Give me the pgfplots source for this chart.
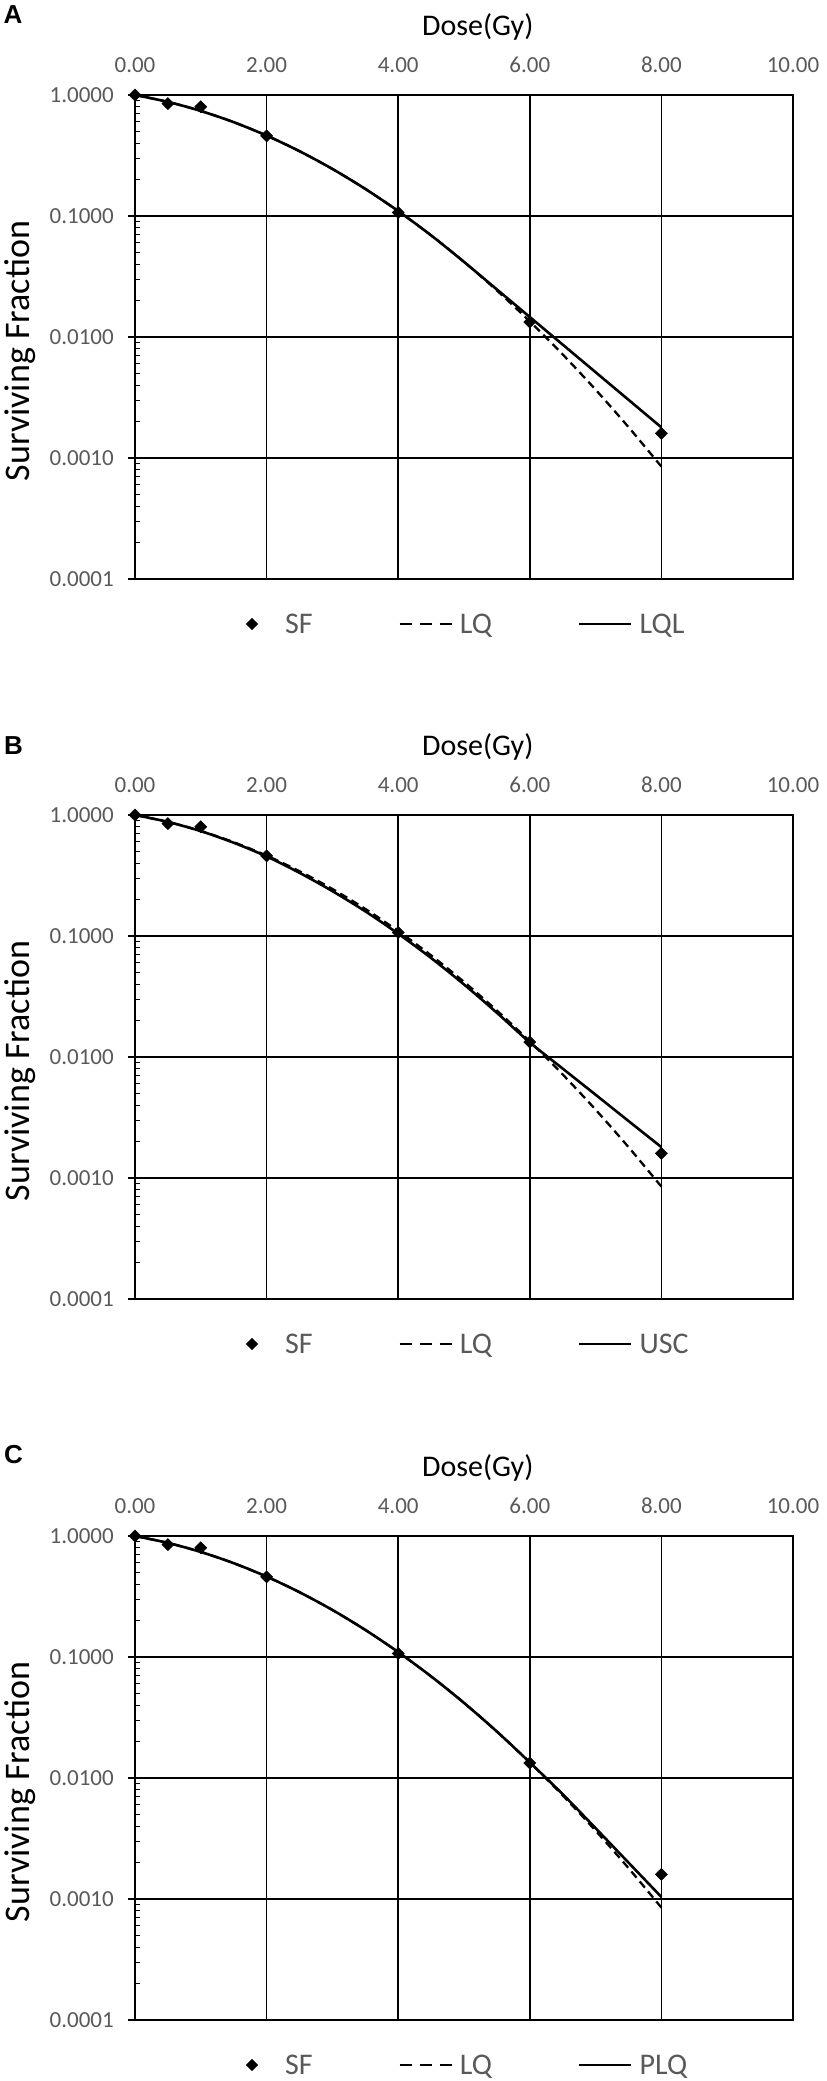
\documentclass[border=0pt]{standalone}
\usepackage{pgfplots}
\pgfplotsset{compat=1.18}
\usepackage{pgfplotstable}
\usepackage{fontspec}
\setmainfont{Carlito}
\newfontfamily\panelfont{Liberation Sans}
\definecolor{tickgray}{HTML}{595959}
\newcommand{\tickfont}{\fontsize{23}{27}\selectfont}
\newcommand{\legfont}{\fontsize{30}{36}\selectfont}
\newcommand{\xtitlefont}{\fontsize{30}{36}\selectfont}
\newcommand{\ytitlefont}{\fontsize{36}{42}\selectfont}

\pgfplotstableread{
x y
0 1.0
0.5 0.85
1 0.80
2 0.46
4 0.107
6 0.0133
8 0.0016
}\sfdata

\pgfplotstableread{
x y
0 1.0000
0.5 0.8774
1 0.7386
1.5 0.5965
2 0.4621
2.5 0.3434
3 0.2449
3.5 0.1675
4 0.1099
4.5 0.06920
5 0.04179
5.5 0.02421
6 0.01346
6.5 0.007178
7 0.003672
7.5 0.001802
8 0.000849
}\lqdata

\pgfplotstableread{
x y
0 1.0000
0.5 0.8774
1 0.7386
1.5 0.5965
2 0.4621
2.5 0.3434
3 0.2449
3.5 0.1675
4 0.1099
4.5 0.06920
5 0.04179
5.5 0.02472
6 0.01463
6.5 0.008652
7 0.005118
7.5 0.003028
8 0.001791
}\lqldata

\pgfplotstableread{
x y
0 1.0
0.5 0.877
1 0.736
1.5 0.590
2 0.455
2.5 0.333
3 0.235
3.5 0.160
4 0.1045
4.5 0.0658
5 0.0398
5.5 0.0232
6 0.0132
6.5 0.00802
7 0.00488
7.5 0.00296
8 0.0018
}\uscdata

\pgfplotstableread{
x y
0 1.0000
0.5 0.8774
1 0.7386
1.5 0.5965
2 0.4621
2.5 0.3434
3 0.2449
3.5 0.1675
4 0.1099
4.5 0.06920
5 0.04179
5.5 0.02421
6 0.01346
6.5 0.00735
7 0.00385
7.5 0.00200
8 0.00104
}\plqdata

\pgfplotsset{
  every axis/.append style={
    scale only axis, width=658pt, height=484pt,
    clip=false,
    xmin=0, xmax=10, ymin=0.0001, ymax=1,
    xtick={0,2,4,6,8,10},
    xticklabels={0.00,2.00,4.00,6.00,8.00,10.00},
    ytick={0.0001,0.001,0.01,0.1,1},
    yticklabels={0.0001,0.0010,0.0100,0.1000,1.0000},
    minor ytick={0.0002,0.0003,0.0004,0.0005,0.0006,0.0007,0.0008,0.0009,
                 0.002,0.003,0.004,0.005,0.006,0.007,0.008,0.009,
                 0.02,0.03,0.04,0.05,0.06,0.07,0.08,0.09,
                 0.2,0.3,0.4,0.5,0.6,0.7,0.8,0.9},
    xticklabel pos=right, xtick pos=right, ytick pos=left,
    xtick align=inside, ytick align=outside,
    major tick length=7pt, minor tick length=5pt,
    major tick style={black, line width=1.3pt},
    minor tick style={black, line width=1.1pt, xshift=5pt},
    grid=major,
    major grid style={black, line width=1.5pt},
    axis line style={black, line width=1.7pt},
    tick label style={font=\tickfont, text=tickgray},
    xticklabel style={anchor=base, yshift=23pt},
    yticklabel style={anchor=east, inner sep=0pt, xshift=-14pt},
    xlabel={Dose(Gy)},
    ylabel={Surviving Fraction},
    xlabel style={at={(axis description cs:0.521,1)}, anchor=base, yshift=60pt, font=\xtitlefont},
    ylabel style={at={(axis description cs:-0.1748,0.471)}, anchor=center, font=\ytitlefont},
    legend columns=3,
    legend style={at={(0.138,-0.093)}, anchor=west, draw=none, fill=none, font=\legfont, text=tickgray, inner sep=0pt,
      nodes={inner sep=0pt},
      /tikz/every odd column/.append style={column sep=7pt},
      /tikz/every even column/.append style={column sep=86pt}},
  },
  sfleg/.style={legend image code/.code={\path[draw=none, fill=none] (0pt,0pt) -- (52pt,0pt); \node[fill=black, draw=none, rotate=45, minimum size=8.6pt, inner sep=0pt] at (26pt,0pt) {};}},
  lqleg/.style={legend image code/.code={\draw[black, line width=2.3pt, dash pattern=on 12pt off 8pt] (0pt,0pt) -- (52pt,0pt);}},
  solleg/.style={legend image code/.code={\draw[black, line width=2.6pt] (0pt,0pt) -- (52pt,0pt);}},
}

\begin{document}
\begin{tikzpicture}
\useasboundingbox (0,0) rectangle (827pt,-2081pt);

\node[font=\panelfont\bfseries\fontsize{26}{30}\selectfont] at (13pt,-14.5pt) {A};
\node[font=\panelfont\bfseries\fontsize{26}{30}\selectfont] at (13.5pt,-746pt) {B};
\node[font=\panelfont\bfseries\fontsize{26}{30}\selectfont] at (13.5pt,-1455pt) {C};

\begin{semilogyaxis}[at={(135pt,-579pt)}, anchor=south west]
\addplot[only marks, mark=square*, mark size=4.3pt, mark options={rotate=45, fill=black, draw=black}, sfleg] table[x=x,y=y] {\sfdata};
\addlegendentry{SF}
\addplot[black, line width=2.3pt, dash pattern=on 8pt off 5pt, smooth, no marks, lqleg] table[x=x,y=y] {\lqdata};
\addlegendentry{LQ}
\addplot[black, line width=2.6pt, smooth, no marks, solleg] table[x=x,y=y] {\lqldata};
\addlegendentry{LQL}
\end{semilogyaxis}

\begin{semilogyaxis}[at={(135pt,-1299pt)}, anchor=south west]
\addplot[only marks, mark=square*, mark size=4.3pt, mark options={rotate=45, fill=black, draw=black}, sfleg] table[x=x,y=y] {\sfdata};
\addlegendentry{SF}
\addplot[black, line width=2.3pt, dash pattern=on 8pt off 5pt, smooth, no marks, lqleg] table[x=x,y=y] {\lqdata};
\addlegendentry{LQ}
\addplot[black, line width=2.6pt, smooth, no marks, solleg] table[x=x,y=y] {\uscdata};
\addlegendentry{USC}
\end{semilogyaxis}

\begin{semilogyaxis}[at={(135pt,-2020pt)}, anchor=south west]
\addplot[only marks, mark=square*, mark size=4.3pt, mark options={rotate=45, fill=black, draw=black}, sfleg] table[x=x,y=y] {\sfdata};
\addlegendentry{SF}
\addplot[black, line width=2.3pt, dash pattern=on 8pt off 5pt, smooth, no marks, lqleg] table[x=x,y=y] {\lqdata};
\addlegendentry{LQ}
\addplot[black, line width=2.6pt, smooth, no marks, solleg] table[x=x,y=y] {\plqdata};
\addlegendentry{PLQ}
\end{semilogyaxis}
\end{tikzpicture}
\end{document}
